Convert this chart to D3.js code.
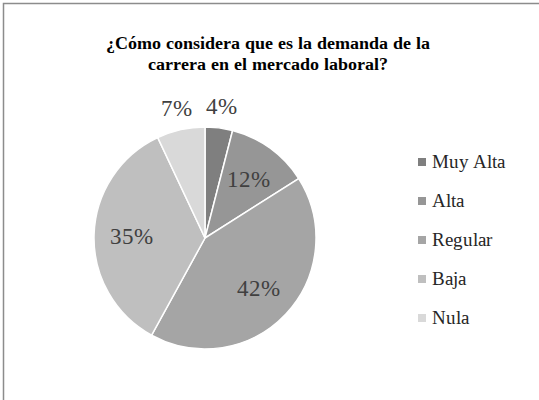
<!DOCTYPE html>
<meta charset="utf-8">
<style>
  @font-face { font-family: "ChartSerif"; src: local("Liberation Serif"), local("LiberationSerif"), local("Times New Roman"); font-weight: normal; }
  @font-face { font-family: "ChartSerif"; src: local("Liberation Serif Bold"), local("LiberationSerif-Bold"), local("Times New Roman Bold"); font-weight: bold; }
  body { margin: 0; background: #fff; }
  svg text { font-family: "ChartSerif", "Liberation Serif", "Times New Roman", Times; }
</style>
<svg width="539" height="400"></svg>
<script src="https://d3js.org/d3.v7.min.js"></script>
<script>

// data
var categories = ["Muy Alta", "Alta", "Regular", "Baja", "Nula"];
var values = [4, 12, 42, 35, 7];
var colors = ["#7f7f7f", "#969696", "#a5a5a5", "#bfbfbf", "#d9d9d9"];
var titleLines = ["¿Cómo considera que es la demanda de la", "carrera en el mercado laboral?"];

var svg = d3.select("svg");

// outer frame (only left/top edges show in the picture)
svg.append("rect")
    .attr("x", 3.5).attr("y", 3.5)
    .attr("width", 545).attr("height", 410)
    .attr("fill", "none")
    .attr("stroke", "#8c8c8c")
    .attr("stroke-width", 1.5);

// title
svg.selectAll("text.title")
  .data(titleLines)
  .enter().append("text")
    .attr("class", "title")
    .attr("x", 268)
    .attr("y", function(d, i) { return 49 + i * 21; })
    .attr("text-anchor", "middle")
    .attr("font-size", 18)
    .attr("font-weight", "bold")
    .attr("fill", "#000")
    .text(function(d) { return d; });

var cx = 205, cy = 238, r = 111;
var total = d3.sum(values);

var pie = d3.pie().sort(null).value(function(d) { return d; });
var arc = d3.arc().innerRadius(0).outerRadius(r);
var labelArc = d3.arc().innerRadius(r * 0.66).outerRadius(r * 0.66);
var outerArc = d3.arc().innerRadius(r + 22).outerRadius(r + 22);

var g = svg.append("g").attr("transform", "translate(" + cx + "," + cy + ")");
var arcs = pie(values);

g.selectAll("path")
  .data(arcs)
  .enter().append("path")
    .attr("d", arc)
    .attr("fill", function(d, i) { return colors[i]; })
    .attr("stroke", "#fff")
    .attr("stroke-width", 1.5);

// percentage labels; small slices go outside
g.selectAll("text.pct")
  .data(arcs)
  .enter().append("text")
    .attr("class", "pct")
    .attr("x", function(d) {
      return ((d.value / total < 0.1) ? outerArc : labelArc).centroid(d)[0];
    })
    .attr("y", function(d) {
      return ((d.value / total < 0.1) ? outerArc : labelArc).centroid(d)[1] + 8;
    })
    .attr("text-anchor", "middle")
    .attr("font-size", 23)
    .attr("fill", "#404040")
    .text(function(d) { return Math.round(d.value / total * 100) + "%"; });

// legend
var legend = svg.append("g").attr("transform", "translate(418,162)");

legend.selectAll("rect")
  .data(categories)
  .enter().append("rect")
    .attr("x", 0)
    .attr("y", function(d, i) { return i * 39 - 4; })
    .attr("width", 8).attr("height", 8)
    .attr("fill", function(d, i) { return colors[i]; });

legend.selectAll("text")
  .data(categories)
  .enter().append("text")
    .attr("x", 14)
    .attr("y", function(d, i) { return i * 39 + 6; })
    .attr("font-size", 19)
    .attr("fill", "#262626")
    .text(function(d) { return d; });

</script>
